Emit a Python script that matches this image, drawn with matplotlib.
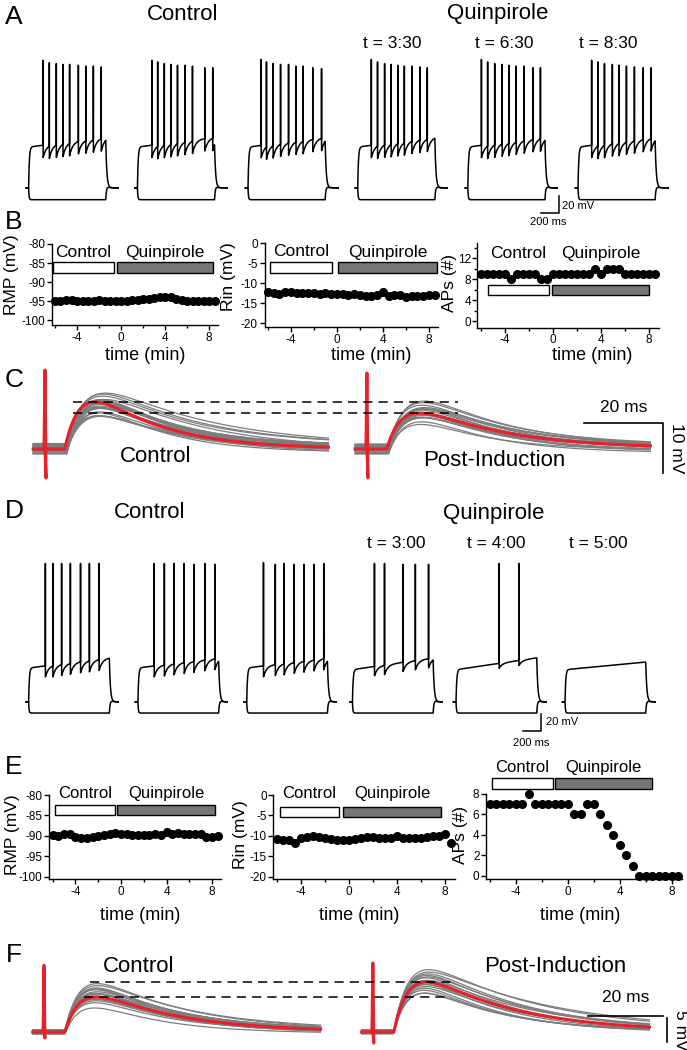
import numpy as np
import matplotlib.pyplot as plt
from matplotlib.patches import Rectangle
from matplotlib.ticker import MultipleLocator

plt.rcParams['font.family'] = ['Liberation Sans', 'DejaVu Sans']
plt.rcParams['axes.unicode_minus'] = False

# ---------------- data ----------------
# A / D: current-step sweeps. spike times in ms after step onset, spike peaks in mV
a_spike_times = [
    [162, 231, 309, 383, 457, 555, 638, 722, 810],
    [162, 226, 300, 373, 447, 530, 614, 751, 840],
    [147, 206, 280, 363, 452, 535, 614, 722, 820],
    [152, 221, 300, 373, 447, 520, 604, 692, 776],
    [152, 221, 300, 383, 457, 540, 629, 727, 810],
    [152, 221, 295, 383, 457, 540, 629, 727, 815],
]
a_spike_peaks = [
    [58, 55, 54, 53, 53, 52, 51, 51, 50],
    [58, 56, 54, 53, 52, 52, 51, 49, 49],
    [59, 56, 54, 53, 53, 51, 51, 49, 48],
    [59, 56, 54, 53, 52, 51, 51, 50, 49],
    [59, 56, 54, 53, 52, 51, 51, 49, 49],
    [58, 56, 54, 53, 52, 51, 50, 49, 49],
]
a_titles = ['', '', '', 't = 3:30', 't = 6:30', 't = 8:30']

d_spike_times = [
    [187, 270, 368, 466, 579, 678, 786],
    [182, 295, 403, 516, 624, 746, 859],
    [187, 319, 417, 530, 638, 751, 859],
    [246, 358, 565, 702, 849],
    [481, 702],
    [],
]
d_spike_peaks = [
    [73, 73, 73, 73, 73, 73, 73],
    [73, 73, 73, 73, 72, 73, 72],
    [74, 72, 73, 72, 72, 72, 73],
    [73, 73, 72, 72, 72],
    [73, 73],
    [],
]
d_plateau = [(-50, -38), (-50, -38), (-50, -38), (-52, -38), (-52, -38), (-52, -43)]
d_ahp = [13, 13, 13, 11, 6, 0]
d_titles = ['', '', '', 't = 3:00', 't = 4:00', 't = 5:00']

# B / E: time course, one point every 30 s
t_min = np.arange(-6, 9, 0.5)
b_rmp = [-94.8, -94.9, -94.6, -94.7, -94.8, -94.9, -95.0, -94.8, -94.7, -94.8,
         -94.9, -94.8, -94.9, -94.8, -94.7, -94.7, -94.5, -94.4, -94.2, -94.0,
         -93.9, -94.0, -94.3, -94.6, -94.8, -94.9, -94.9, -94.8, -94.9, -94.8]
b_rin = [-12.3, -12.4, -12.8, -12.2, -12.3, -12.5, -12.4, -12.6, -12.5, -12.7,
         -12.6, -12.8, -12.7, -12.8, -12.9, -12.8, -13.0, -13.2, -13.3, -13.0,
         -12.3, -13.2, -13.0, -13.1, -13.4, -13.3, -13.2, -13.3, -13.1, -12.9]
b_aps = [9, 9, 9, 9, 9, 8, 9, 9, 9, 9, 8, 8, 9, 9, 9,
         9, 9, 9, 9, 10, 9, 10, 10, 10, 9, 9, 9, 9, 9, 9]
e_rmp = [-89.8, -90.0, -89.4, -89.5, -90.3, -90.6, -90.5, -90.3, -90.0, -89.7,
         -89.4, -89.3, -89.5, -89.4, -89.7, -89.8, -89.8, -89.7, -89.5, -89.7,
         -89.0, -89.6, -89.3, -89.4, -89.4, -89.5, -89.6, -90.3, -90.2, -90.1]
e_rin = [-10.8, -10.9, -11.0, -11.6, -10.5, -10.2, -10.1, -10.3, -10.5, -10.7,
         -10.9, -11.0, -11.0, -10.8, -10.6, -10.3, -10.3, -10.4, -10.6, -10.5,
         -9.9, -10.6, -10.6, -10.4, -10.4, -10.3, -10.1, -10.0, -9.6, -11.6]
e_aps = [7, 7, 7, 7, 7, 7, 8, 7, 7, 7, 7, 7, 7, 6, 6,
         7, 7, 6, 5, 4, 3, 2, 1, 0, 0, 0, 0, 0, 0, 0]

# treatment bars: (control start, control end, drug start, drug end, y low, y high)
b_bars = [(-6.2, -0.6, -0.4, 8.4, -87.5, -84.7),
          (-5.8, -0.4, 0.1, 8.7, -7.5, -4.75),
          (-5.4, -0.33, -0.08, 8.0, 5.0, 7.0)]
e_bars = [(-5.8, -0.5, -0.35, 8.25, -84.9, -82.4),
          (-5.75, -0.83, -0.5, 7.7, -5.4, -2.9),
          (-5.85, -1.15, -1.0, 6.5, 8.5, 9.56)]
b_bar_text_y = [-82.1, -2.25, 12.9]
e_bar_text_y = [-79.75, 0.25, 10.6]

# C / F: single-sweep EPSPs: peak (mV), decay constant (ms), baseline offset (mV)
c_ctrl_amp = [10.6, 10.3, 10.1, 9.9, 9.7, 9.6, 9.4, 9.3, 9.1, 9.0, 8.8,
              8.7, 8.5, 8.3, 8.1, 7.9, 7.6, 7.3, 7.0, 6.6, 6.1]
c_ctrl_tau = [28, 26, 24, 21, 19, 23, 20, 18, 19, 21, 17,
              19, 18, 20, 17, 19, 18, 17, 19, 18, 17]
c_ctrl_base = [0.6, -0.4, 0.9, -0.8, 0.2, 1.0, -0.3, 0.5, -1.0, 0.3, 0.8,
               -0.6, 0.1, 0.7, -0.9, 0.4, -0.2, 1.1, -0.5, 0.0, 0.6]
c_post_amp = [9.1, 8.7, 8.4, 8.2, 8.0, 7.8, 7.6, 7.5, 7.3, 7.1, 7.0,
              6.8, 6.6, 6.4, 6.1, 5.7, 5.2]
c_post_tau = [22, 24, 21, 20, 23, 19, 20, 21, 19, 20, 18,
              20, 19, 18, 19, 18, 17]
c_post_base = [0.5, -0.7, 0.9, -0.2, 0.3, 1.0, -0.9, 0.6, -0.4, 0.1, 0.8,
               -0.6, 0.4, -1.0, 0.2, 0.7, -0.3]
c_mean_amp = [9.4, 7.2]
c_mean_tau = [17, 22]

f_ctrl_amp = [9.8, 9.5, 9.2, 9.0, 8.8, 8.6, 8.4, 8.2, 8.0, 7.8, 7.6,
              7.4, 7.2, 7.0, 6.7, 6.4, 6.0, 5.4]
f_ctrl_tau = [24, 22, 25, 21, 23, 22, 20, 24, 21, 22, 20,
              23, 21, 20, 22, 21, 20, 19]
f_ctrl_base = [0.3, -0.3, 0.5, -0.2, 0.1, 0.4, -0.4, 0.2, 0.0, 0.3, -0.1,
               0.5, -0.3, 0.2, -0.2, 0.4, 0.1, -0.4]
f_post_amp = [12.8, 12.4, 12.1, 11.8, 11.5, 11.2, 10.9, 10.6, 10.3, 10.0,
              9.7, 9.4, 9.1, 8.7, 8.3, 7.8]
f_post_tau = [30, 28, 32, 26, 24, 27, 25, 23, 26, 22, 24, 21, 23, 20, 22, 20]
f_post_base = [0.2, -0.3, 0.4, 0.0, -0.2, 0.3, -0.4, 0.1, 0.5, -0.1,
               0.2, -0.3, 0.4, 0.0, -0.2, 0.3]
f_mean_amp = [7.3, 10.4]
f_mean_tau = [22, 24]

# ---------------- helpers ----------------
W, H = 687, 1050
fig = plt.figure(figsize=(W / 100, H / 100), dpi=100)


def box(l, t, r, b):
    return fig.add_axes([l / W, 1 - b / H, (r - l) / W, (b - t) / H])


def label(x, y, s, size, **kw):
    kw.setdefault('ha', 'center')
    kw.setdefault('va', 'center')
    fig.text(x / W, 1 - y / H, s, fontsize=size, **kw)


def step_sweep(t, t_off, v_rest, v0, v1, spikes, peaks, ahp):
    v = np.full(t.shape, float(v_rest))
    on = (t >= 0) & (t < t_off)
    tt = t[on]
    drive = v_rest + (v0 - v_rest) * (1 - np.exp(-tt / 8)) + (v1 - v0) * tt / t_off
    for ts in spikes:
        k = tt > ts
        drive[k] -= ahp * np.exp(-(tt[k] - ts) / 35)
    v[on] = drive
    for ts, pk in zip(spikes, peaks):
        v[np.argmin(np.abs(t - ts))] = pk
    off = t >= t_off
    v[off] = v_rest + (drive[-1] - v_rest) * np.exp(-(t[off] - t_off) / 12)
    return v


def hyper_sweep(t, t_off, v_rest, v_h):
    v = np.full(t.shape, float(v_rest))
    on = (t >= 0) & (t < t_off)
    v[on] = v_rest + (v_h - v_rest) * (1 - np.exp(-t[on] / 5))
    off = t >= t_off
    s = t[off] - t_off
    v[off] = v_rest + (v_h - v_rest) * np.exp(-s / 8) + 3 * (np.exp(-s / 30) - np.exp(-s / 8))
    return v


def epsp(t, amp, td, onset=5.5, tr=4.5):
    s = np.clip(t - onset, 0, None)
    tp = np.log(td / tr) * tr * td / (td - tr)
    g = np.exp(-s / td) - np.exp(-s / tr)
    return amp * g / (np.exp(-tp / td) - np.exp(-tp / tr))


def with_artifact(t, v, top, bottom):
    i = np.searchsorted(t, 0)
    return np.insert(t, i, [0, 0.25]), np.insert(v, i, [top, bottom])


def time_axes(l, t, r, b, xlim, ylim, yticks, yminor=None):
    ax = box(l, t, r, b)
    ax.set_xlim(*xlim)
    ax.set_ylim(*ylim)
    for s in ('top', 'right'):
        ax.spines[s].set_visible(False)
    for s in ('left', 'bottom'):
        ax.spines[s].set_linewidth(1.0)
    ax.set_xticks([-4, 0, 4, 8])
    ax.xaxis.set_minor_locator(MultipleLocator(2))
    ax.set_yticks(yticks)
    if yminor:
        ax.yaxis.set_minor_locator(MultipleLocator(yminor))
    ax.tick_params(which='both', direction='out', width=1.0, labelsize=8.5, pad=1.2)
    ax.tick_params(which='major', length=3.5)
    ax.tick_params(which='minor', length=2)
    ax.patch.set_alpha(0)
    return ax


def bars(ax, spec, ty, size):
    c0, c1, q0, q1, y0, y1 = spec
    ax.add_patch(Rectangle((c0, y0), c1 - c0, y1 - y0, fc='white', ec='black', lw=1.0, clip_on=False))
    ax.add_patch(Rectangle((q0, y0), q1 - q0, y1 - y0, fc='#767676', ec='black', lw=1.0, clip_on=False))
    ax.text((c0 + c1) / 2, ty, 'Control', fontsize=size, ha='center', va='center')
    ax.text((q0 + q1) / 2, ty, 'Quinpirole', fontsize=size, ha='center', va='center')


def gray_bundle(ax, te, shift, amps, taus, bases, top, bot, onset, tr):
    for a, td, b0 in zip(amps, taus, bases):
        tt, vv = with_artifact(te, epsp(te, a, td, onset=onset, tr=tr) + b0 * np.exp(-np.clip(te, 0, None) / 400), top, bot)
        ax.plot(tt + shift, vv, color='#7d7d7d', lw=0.9)


# ---------------- A ----------------
ms_px = 11.15
t_sweep = np.arange(-29, 1008, 0.5)
a_onset_px = [28.6, 137.4, 248.0, 357.7, 467.8, 578.0]
a_axes = []
for i, x0 in enumerate(a_onset_px):
    ax = box(x0 - 40 / ms_px, 54.4, x0 + 1010 / ms_px, 204.7)
    ax.set_xlim(-40, 1010)
    ax.set_ylim(-115, 65)
    ax.axis('off')
    ax.plot(t_sweep, hyper_sweep(t_sweep, 860, -95, -109), color='black', lw=1.1)
    ax.plot(t_sweep, step_sweep(t_sweep, 860, -95, -46, -34, a_spike_times[i],
                                a_spike_peaks[i], 15), color='black', lw=1.1)
    a_axes.append(ax)
sb = a_axes[4]
sb.plot([817, 1017, 1017], [-125, -125, -105], color='black', lw=1.1, clip_on=False)
sb.text(1050, -117, '20 mV', fontsize=8, ha='left', va='center')
sb.text(900, -136, '200 ms', fontsize=8, ha='center', va='center')

label(14, 17, 'A', 19)
label(183, 14, 'Control', 16)
label(498, 14, 'Quinpirole', 16)
for x, s in zip([392, 504, 608], a_titles[3:]):
    label(x, 43, s, 12.5)

# ---------------- B ----------------
label(14, 222, 'B', 19)
ax = time_axes(51.7, 244, 217.8, 325, (-6.3, 8.8), (-101.2, -80), [-100, -95, -90, -85, -80])
ax.plot(t_min, b_rmp, 'o', color='black', ms=5.5, clip_on=False)
bars(ax, b_bars[0], b_bar_text_y[0], 12.5)
label(12, 275, 'RMP (mV)', 12.5, rotation=90)
label(145, 355, 'time (min)', 13)

ax = time_axes(264.5, 243, 438.2, 327, (-6.3, 8.8), (-21, 0), [-20, -15, -10, -5, 0])
ax.plot(t_min, b_rin, 'o', color='black', ms=5.5, clip_on=False)
bars(ax, b_bars[1], b_bar_text_y[1], 12.5)
label(229, 277, 'Rin (mV)', 12.5, rotation=90)
label(371, 355, 'time (min)', 13)

ax = time_axes(477.4, 243.3, 658.6, 327.8, (-6.3, 8.8), (-1.3, 14.9), [0, 4, 8, 12], 2)
ax.plot(t_min, b_aps, 'o', color='black', ms=5.5, clip_on=False)
bars(ax, b_bars[2], b_bar_text_y[2], 12.5)
label(449, 283, 'APs (#)', 12.5, rotation=90)
label(592, 356, 'time (min)', 13)

# ---------------- C ----------------
label(14, 380, 'C', 19)
ax = box(20, 365, 687, 485)
ax.set_xlim(-25 / 3.95, 642 / 3.95)
ax.set_ylim(-7.2, 16.8)
ax.axis('off')
c_shift = 81.5
te = np.arange(-3, 72, 0.25)
gray_bundle(ax, te, 0, c_ctrl_amp, c_ctrl_tau, c_ctrl_base, 15.8, -5.8, 5.5, 4.5)
gray_bundle(ax, te, c_shift, c_post_amp, c_post_tau, c_post_base, 15.2, -5.8, 5.5, 4.5)
for shift, a, td, top in zip([0, c_shift], c_mean_amp, c_mean_tau, [15.8, 15.2]):
    tt, vv = with_artifact(te, epsp(te, a, td, onset=5.0, tr=4.0), top, -5.8)
    ax.plot(tt + shift, vv, color='#e8202a', lw=2.2)
for a in c_mean_amp:
    ax.plot([7.1, 104.6], [a, a], color='black', lw=1.1, ls=(0, (6, 4)))
ax.plot([136.5, 156.5, 156.5], [5.2, 5.2, -4.8], color='black', lw=1.2)
ax.text(146.5, 8.3, '20 ms', fontsize=12.5, ha='center', va='center')
ax.text(160, 0.2, '10 mV', fontsize=12.5, ha='center', va='center', rotation=270)
label(156, 457, 'Control', 16)
label(494, 460, 'Post-Induction', 16)

# ---------------- D ----------------
label(14, 511, 'D', 19)
label(150, 513, 'Control', 16)
label(494, 513, 'Quinpirole', 16)
for x, s in zip([396, 496, 598], d_titles[3:]):
    label(x, 543, s, 12.5)
d_onset_px = [28.6, 137.9, 246.7, 352.4, 456.0, 565.0]
d_axes = []
for i, x0 in enumerate(d_onset_px):
    ax = box(x0 - 40 / ms_px, 557.5, x0 + 1010 / ms_px, 719)
    ax.set_xlim(-40, 1010)
    ax.set_ylim(-110, 80)
    ax.axis('off')
    v0, v1 = d_plateau[i]
    ax.plot(t_sweep, hyper_sweep(t_sweep, 900, -90, -103), color='black', lw=1.1)
    ax.plot(t_sweep, step_sweep(t_sweep, 900, -90, v0, v1, d_spike_times[i],
                                d_spike_peaks[i], d_ahp[i]), color='black', lw=1.1)
    d_axes.append(ax)
sb = d_axes[4]
sb.plot([748, 948, 948], [-124, -124, -104], color='black', lw=1.1, clip_on=False)
sb.text(1000, -113, '20 mV', fontsize=8, ha='left', va='center')
sb.text(840, -138, '200 ms', fontsize=8, ha='center', va='center')

# ---------------- E ----------------
label(14, 767, 'E', 19)
ax = time_axes(49.2, 795, 221.3, 879, (-6.3, 8.8), (-100.5, -80), [-100, -95, -90, -85, -80])
ax.plot(t_min, e_rmp, 'o', color='black', ms=5.5, clip_on=False)
bars(ax, e_bars[0], e_bar_text_y[0], 12)
label(13, 835, 'RMP (mV)', 12.5, rotation=90)
label(140, 915, 'time (min)', 13)

ax = time_axes(273.4, 795, 454.6, 879, (-6.3, 8.8), (-20.5, 0), [-20, -15, -10, -5, 0])
ax.plot(t_min, e_rin, 'o', color='black', ms=5.5, clip_on=False)
bars(ax, e_bars[1], e_bar_text_y[1], 12)
label(240, 835, 'Rin (mV)', 12.5, rotation=90)
label(359, 915, 'time (min)', 13)

ax = time_axes(486, 794, 682.4, 879, (-6.3, 8.8), (-0.3, 8), [0, 2, 4, 6, 8])
ax.plot(t_min, e_aps, 'o', color='black', ms=5.5, clip_on=False)
bars(ax, e_bars[2], e_bar_text_y[2], 12)
label(461, 835, 'APs (#)', 12.5, rotation=90)
label(580, 915, 'time (min)', 13)

# ---------------- F ----------------
label(14, 955, 'F', 19)
ax = box(20, 950, 687, 1050)
ax.set_xlim(-24 / 3.75, 643 / 3.75)
ax.set_ylim(-3.75, 17.1)
ax.axis('off')
f_shift = 87.7
te = np.arange(-3, 74, 0.25)
gray_bundle(ax, te, 0, f_ctrl_amp, f_ctrl_tau, f_ctrl_base, 13.9, -1.25, 5.6, 4.0)
gray_bundle(ax, te, f_shift, f_post_amp, f_post_tau, f_post_base, 14.4, -2.3, 5.6, 4.0)
for shift, a, td, top, bot in zip([0, f_shift], f_mean_amp, f_mean_tau, [13.9, 14.4], [-1.25, -2.3]):
    tt, vv = with_artifact(te, epsp(te, a, td, onset=5.6, tr=4.0), top, bot)
    ax.plot(tt + shift, vv, color='#e8202a', lw=2.2)
ax.plot([12.3, 109.9], [f_mean_amp[1]] * 2, color='black', lw=1.1, ls=(0, (6, 4)))
ax.plot([10.7, 108.0], [f_mean_amp[0]] * 2, color='black', lw=1.1, ls=(0, (6, 4)))
ax.plot([145, 165], [3.33, 3.33], color='black', lw=1.2)
ax.plot([166.1, 166.1], [2.9, -2.1], color='black', lw=1.2)
ax.text(155.2, 7.3, '20 ms', fontsize=12.5, ha='center', va='center')
ax.text(169.8, 0.4, '5 mV', fontsize=12.5, ha='center', va='center', rotation=270)
label(139, 967, 'Control', 16)
label(555, 967, 'Post-Induction', 16)

fig.savefig('out.png', dpi=100)
